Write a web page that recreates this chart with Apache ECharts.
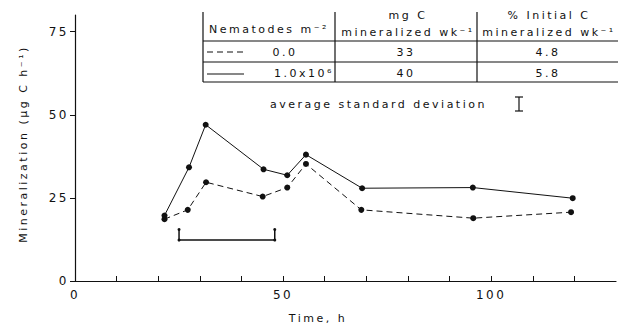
<!DOCTYPE html>
<html>
<head>
<meta charset="utf-8">
<script src="https://cdn.jsdelivr.net/npm/echarts@6/dist/echarts.min.js"></script>
<style>
  html, body { margin: 0; padding: 0; background: #fff; }
  #chart { width: 618px; height: 324px; }
  /* the original typesetting is widely letter-spaced */
  #chart svg text { letter-spacing: 2.5px; }
</style>
</head>
<body>
<div id="chart"></div>
<script>
// data
const timeNone = [21.5, 27.1, 31.5, 45.1, 51, 55.5, 68.8, 95.7, 119.2];
const minNone = [18.6, 21.4, 29.7, 25.4, 28.1, 35.2, 21.4, 18.9, 20.7];
const timeHigh = [21.5, 27.4, 31.4, 45.3, 51, 55.5, 69, 95.6, 119.6];
const minHigh = [19.7, 34.2, 47, 33.6, 31.8, 38, 27.9, 28.1, 24.9];

// bracket drawn under the peak (hours, value)
const bracketX = [25, 25, 48, 48];
const bracketY = [15.5, 12.3, 12.3, 15.5];

const xTicks = [0, 10, 20, 30, 40, 50, 60, 70, 80, 90, 100, 110, 120];
const xLabels = [0, 50, 100];
const yTicks = [0, 25, 50, 75];

const tableHead = ['Nematodes m\u207B\u00B2', 'mg C', '% Initial C', 'mineralized wk\u207B\u00B9'];
const tableRows = [['0.0', '33', '4.8'], ['1.0x10\u2076', '40', '5.8']];

const FONT = 'DejaVu Sans';
const zip = (xs, ys) => xs.map((x, i) => [x, ys[i]]);

const chart = echarts.init(document.getElementById('chart'), null, { renderer: 'svg' });

function txt(x, y, s, align, rot) {
  return {
    type: 'text', x: x, y: y, rotation: rot || 0,
    style: { text: s, fill: '#111', font: '11px "' + FONT + '"', textAlign: align || 'center', textVerticalAlign: 'middle' }
  };
}
function ln(x1, y1, x2, y2, dash) {
  return {
    type: 'line', shape: { x1: x1, y1: y1, x2: x2, y2: y2 },
    style: { stroke: '#111', lineWidth: 1.2, lineDash: dash || null }
  };
}

const graphics = [
  // table frame
  ln(203, 12, 203, 82), ln(335, 12, 335, 82), ln(477, 12, 477, 82),
  ln(203, 41, 618, 41), ln(203, 62, 618, 62), ln(203, 82, 618, 82),
  txt(209, 29, tableHead[0], 'left'),
  txt(408, 15, tableHead[1]), txt(408, 32, tableHead[3]),
  txt(549, 15, tableHead[2]), txt(549, 32, tableHead[3]),
  ln(207, 52, 246, 52, [6, 4]), ln(207, 74, 244, 74),
  txt(285, 52, tableRows[0][0]), txt(406, 52, tableRows[0][1]), txt(548, 52, tableRows[0][2]),
  txt(304, 73, tableRows[1][0]), txt(406, 73, tableRows[1][1]), txt(548, 73, tableRows[1][2]),
  txt(270, 104, 'average standard deviation', 'left'),
  ln(519, 97, 519, 111), ln(515, 97, 523, 97), ln(515, 111, 523, 111),
  // axis titles
  txt(23, 144, 'Mineralization (\u03BCg C h\u207B\u00B9)', 'center', Math.PI / 2),
  txt(318, 318, 'Time, h')
];

const option = {
  animation: false,
  backgroundColor: '#fff',
  textStyle: { fontFamily: FONT },
  grid: { left: 75, right: 2, top: 15, bottom: 43 },
  xAxis: {
    type: 'value', min: 0, max: 130,
    axisLine: { lineStyle: { color: '#111', width: 1.2 } },
    axisTick: { inside: true, length: 5, customValues: xTicks, lineStyle: { color: '#111' } },
    axisLabel: { customValues: xLabels, color: '#111', fontSize: 12, margin: 8 },
    splitLine: { show: false }
  },
  yAxis: {
    type: 'value', min: 0, max: 80,
    axisLine: { show: true, lineStyle: { color: '#111', width: 1.2 } },
    axisTick: { show: true, length: 5, customValues: yTicks, lineStyle: { color: '#111' } },
    axisLabel: { customValues: yTicks, color: '#111', fontSize: 12, margin: 6 },
    splitLine: { show: false }
  },
  graphic: graphics,
  series: [
    {
      name: '0.0', type: 'line', data: zip(timeNone, minNone),
      symbol: 'circle', symbolSize: 6, itemStyle: { color: '#111' },
      lineStyle: { color: '#111', width: 1, type: [6, 4] }
    },
    {
      name: '1.0x10\u2076', type: 'line', data: zip(timeHigh, minHigh),
      symbol: 'circle', symbolSize: 6, itemStyle: { color: '#111' },
      lineStyle: { color: '#111', width: 1 }
    },
    {
      name: 'bracket', type: 'line', data: zip(bracketX, bracketY),
      symbol: 'circle', symbolSize: 3, itemStyle: { color: '#111' },
      lineStyle: { color: '#111', width: 1.5 }
    }
  ]
};

chart.setOption(option);
</script>
</body>
</html>
